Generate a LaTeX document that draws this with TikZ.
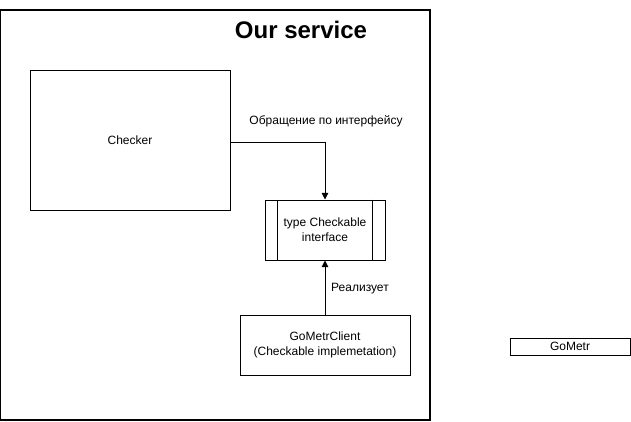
\documentclass[tikz,border=0pt]{standalone}
\usepackage{fontspec}
\setmainfont{Liberation Sans}
\usetikzlibrary{arrows.meta}
\begin{document}
\begin{tikzpicture}[
    x=0.75pt, y=-0.75pt,
    every node/.style={font=\fontsize{9pt}{11pt}\selectfont, inner sep=0pt},
    block/.style={draw, rectangle, line width=0.75pt, align=center},
    link/.style={-{Triangle[length=5pt,width=5pt]}, line width=0.75pt},
    thick
]
    \useasboundingbox (0,0) rectangle (631,421);
    % Рамка сервиса и заголовок
    \node[block, line width=1pt, minimum width=322.5pt, minimum height=307.5pt] (service) at (215,215) {};
    \node[font=\fontsize{18pt}{21pt}\selectfont\bfseries] (title) at (301,30) {Our service};

    % Блоки внутри сервиса
    \node[block, minimum width=150pt, minimum height=105pt] (checker) at (130,140) {Checker};
    \node[block, minimum width=90pt, minimum height=45pt] (iface) at (325,230) {type Checkable\\interface};
    \draw[line width=0.75pt] ([xshift=9.75pt]iface.north west) -- ([xshift=9.75pt]iface.south west);
    \draw[line width=0.75pt] ([xshift=-9.75pt]iface.north east) -- ([xshift=-9.75pt]iface.south east);
    \node[block, minimum width=127.5pt, minimum height=45pt] (client) at (325,345) {GoMetrClient\\(Checkable implemetation)};

    % Внешний сервис
    \node[block, minimum width=90pt, minimum height=12.75pt] (gometr) at (570,346.5) {GoMetr};

    % Связи
    \draw[link] ([yshift=-1.5pt]checker.east) -| (iface.north);
    \draw[link] (client.north) -- (iface.south);
    \node (calls) at (326,121) {Обращение по интерфейсу};
    \node (impl) at (360,289) {Реализует};
\end{tikzpicture}
\end{document}
